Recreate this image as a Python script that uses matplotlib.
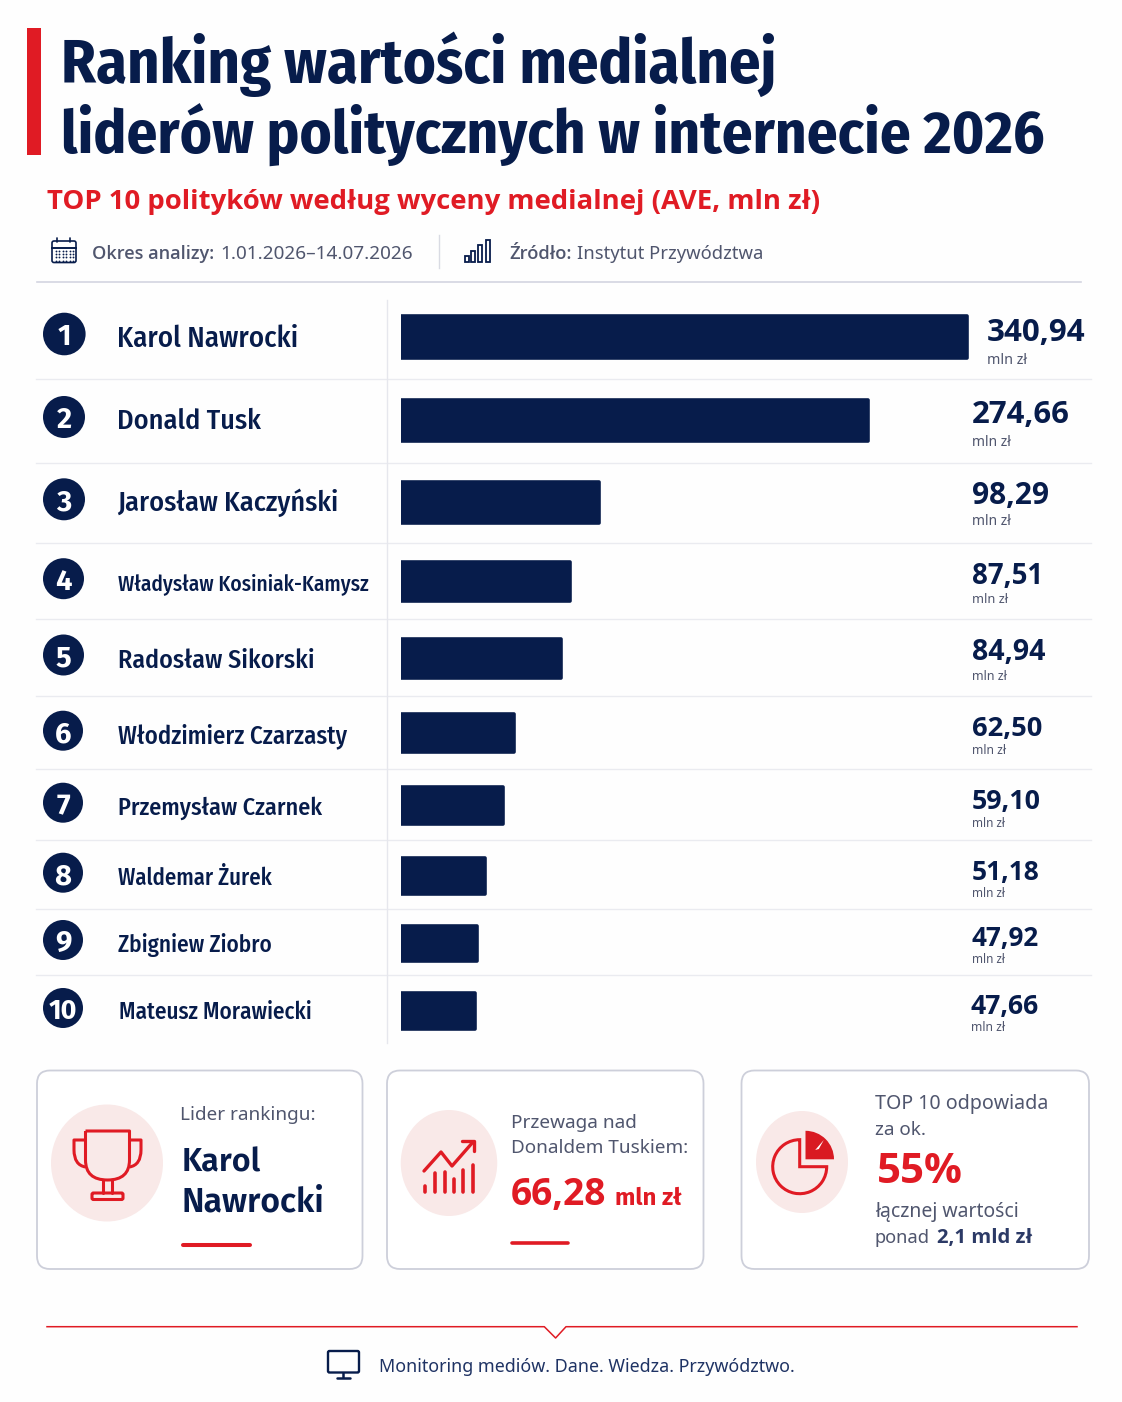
import matplotlib
import matplotlib.pyplot as plt
import numpy as np
from matplotlib.patches import Circle, Ellipse, FancyBboxPatch, PathPatch, Rectangle, Wedge
from matplotlib.path import Path

matplotlib.use("Agg")

NAVY = "#071c4b"
RED = "#e01b24"
GRAY = "#50566e"
PINK = "#f9e9e8"
WIDTH, HEIGHT = 1122, 1402

COND = ["Fira Sans Condensed", "Roboto", "DejaVu Sans"]
SANS = ["Noto Sans", "DejaVu Sans"]
OPEN = ["Open Sans", "Noto Sans", "DejaVu Sans"]
SEMI = ["Fira Sans", "Noto Sans", "DejaVu Sans"]

# data
NAMES = [
    "Karol Nawrocki", "Donald Tusk", "Jarosław Kaczyński", "Władysław Kosiniak-Kamysz",
    "Radosław Sikorski", "Włodzimierz Czarzasty", "Przemysław Czarnek",
    "Waldemar Żurek", "Zbigniew Ziobro", "Mateusz Morawiecki",
]
VALUES = [340.94, 274.66, 98.29, 87.51, 84.94, 62.50, 59.10, 51.18, 47.92, 47.66]
# the bars in the picture are not to scale with the printed values, so read them separately
BAR_LENGTHS = [340.94, 281.6, 119.0, 101.8, 96.1, 68.1, 61.2, 50.9, 45.5, 44.6]

# layout, all in pixels of the 1122x1402 picture
BAR_TOP = [314, 398, 480, 560, 637, 712, 785, 856, 924, 991]
BAR_BOTTOM = [359, 442, 524, 602, 679, 753, 825, 895, 962, 1030]
DIVIDERS = [379.3, 462.7, 543, 619.3, 695.7, 769.3, 840.3, 908.7, 975]
CIRCLE_X = [64.3, 64, 64, 63.5, 63.5, 63, 63, 63, 63, 63]
CIRCLE_Y = [334, 417, 499.3, 578.7, 655, 730.7, 802.7, 872.7, 940, 1008]
CIRCLE_R = [21.3, 21, 21, 20.5, 20.5, 20, 20, 20, 20, 20]
NAME_X = [117, 117, 117, 118, 118, 118, 118, 118, 118, 119]
NAME_RIGHT = [298, 261, 338, 370, 314, 347, 322, 272, 272, 312]
NAME_BASE = [347, 429, 511, 590, 668, 743, 815, 885, 952, 1019]
VALUE_X = [987, 972, 972, 972, 972, 972, 972, 972, 972, 971]
VALUE_RIGHT = [1085, 1070, 1049, 1043, 1045, 1042, 1041, 1040, 1039, 1039]
VALUE_BASE = [341, 423, 504, 584, 660, 736, 809, 880, 946, 1014]
UNIT_RIGHT = [1027, 1011, 1011, 1008, 1007, 1006, 1005, 1005, 1005, 1005]
UNIT_BASE = [364, 445.7, 525, 603, 680, 754, 827, 897, 963, 1031]


fig = plt.figure(figsize=(WIDTH / 100, HEIGHT / 100), dpi=100, facecolor="#fefefe")
ax = fig.add_axes([0, 0, 1, 1])
ax.set_xlim(0, WIDTH)
ax.set_ylim(HEIGHT, 0)
ax.axis("off")
renderer = fig.canvas.get_renderer()


def label(x, base, text, right, family=SANS, weight="normal", color=GRAY, **kw):
    # font size is fitted so the text runs from x to right, as in the picture
    t = ax.text(x, base, text, family=family, weight=weight, color=color,
                fontsize=20, va="baseline", ha="left", **kw)
    width = t.get_window_extent(renderer).width
    t.set_fontsize(20 * (right - x) / width)
    return t


def stroke(points, color=RED, lw=2.2, **kw):
    xs, ys = zip(*points)
    ax.plot(xs, ys, color=color, lw=lw, solid_capstyle="round", solid_joinstyle="round", **kw)


# header
ax.add_patch(Rectangle((27, 28), 14, 127, color=RED, lw=0))
label(61, 83, "Ranking wartości medialnej", 779, COND, "bold", NAVY)
label(61, 154, "liderów politycznych w internecie 2026", 1044, COND, "bold", NAVY)
label(47, 209, "TOP 10 polityków według wyceny medialnej (AVE, mln zł)", 818, OPEN, "bold", RED)

label(92, 259, "Okres analizy:", 214, OPEN, "semibold")
label(220, 259, "1.01.2026–14.07.2026", 413)
label(509, 259, "Źródło:", 571, OPEN, "semibold")
label(577, 259, "Instytut Przywództwa", 763)
ax.plot([439, 439], [235, 268], color="#d9dbe3", lw=1)
ax.plot([37, 1081], [281.5, 281.5], color="#d3d5e0", lw=1.2)

# calendar icon
ax.add_patch(FancyBboxPatch((52, 241), 24, 21.5, boxstyle="round,pad=0,rounding_size=2",
                            fc="none", ec=NAVY, lw=1.2))
ax.plot([52, 76], [247.5, 247.5], color=NAVY, lw=1.4)
for ring_x in (57.5, 70.5):
    stroke([(ring_x, 237.5), (ring_x, 242)], NAVY, 1.2)
dot_x, dot_y = np.meshgrid(np.arange(56, 74, 3.4), np.arange(251, 261, 3.2))
ax.scatter(dot_x.ravel(), dot_y.ravel(), s=1.8, color=NAVY, lw=0)

# small bars icon
for left, top in zip((465, 471.5, 478.5, 486), (256, 251, 245, 240)):
    ax.add_patch(Rectangle((left, top), 3.6, 261.5 - top, fc="none", ec=NAVY, lw=1.3))

# table grid
for y in DIVIDERS:
    ax.plot([36, 1091], [y, y], color="#eaebf0", lw=1)
ax.plot([386.8, 386.8], [300, 1043], color="#e6e7ed", lw=1)

# bars, on their own axes so lengths go through an x scale
bar_left, bar_zero_width, x_max = 401, 566, 400
ax_bars = fig.add_axes([bar_left / WIDTH, 0, bar_zero_width * (x_max / VALUES[0]) / WIDTH, 1])
ax_bars.set_xlim(0, x_max)
ax_bars.set_ylim(HEIGHT, 0)
ax_bars.axis("off")
ax_bars.patch.set_alpha(0)
centers = [(a + b) / 2 for a, b in zip(BAR_TOP, BAR_BOTTOM)]
heights = [b - a - 3 for a, b in zip(BAR_TOP, BAR_BOTTOM)]
ax_bars.barh(centers, BAR_LENGTHS, height=heights, color=NAVY, edgecolor=NAVY,
             linewidth=2.6, joinstyle="round")

# rows
for i, name in enumerate(NAMES):
    ax.add_patch(Circle((CIRCLE_X[i], CIRCLE_Y[i]), CIRCLE_R[i], color=NAVY, lw=0))
    ax.text(CIRCLE_X[i], CIRCLE_Y[i] + 0.5, str(i + 1), color="white", ha="center",
            va="center_baseline", family=SEMI, weight="bold", fontsize=21 if i < 9 else 19.5)
    label(NAME_X[i], NAME_BASE[i], name, NAME_RIGHT[i], COND, "medium", NAVY)
    label(VALUE_X[i], VALUE_BASE[i], f"{VALUES[i]:.2f}".replace(".", ","), VALUE_RIGHT[i],
          OPEN, "bold", NAVY)
    label(VALUE_X[i], UNIT_BASE[i], "mln zł", UNIT_RIGHT[i])

# cards
for left, right in ((37, 362.5), (387, 703.5), (741.5, 1089)):
    ax.add_patch(FancyBboxPatch((left, 1070.5), right - left, 198.5,
                                boxstyle="round,pad=0,rounding_size=13",
                                fc="white", ec="#cdcfda", lw=1.3))

ax.add_patch(Ellipse((107, 1163), 112, 117, color=PINK, lw=0))
ax.add_patch(Ellipse((449, 1163), 96.5, 106, color=PINK, lw=0))
ax.add_patch(Ellipse((802, 1162), 92, 102, color=PINK, lw=0))

# trophy
cup = Path(
    [(85.5, 1131), (129.5, 1131), (129.5, 1160), (129.5, 1180), (107.5, 1180),
     (85.5, 1180), (85.5, 1160), (85.5, 1131)],
    [Path.MOVETO, Path.LINETO, Path.LINETO, Path.CURVE3, Path.CURVE3,
     Path.CURVE3, Path.CURVE3, Path.LINETO],
)
ax.add_patch(PathPatch(cup, fc="none", ec=RED, lw=2.2, joinstyle="round"))
for edge, outer in ((85.5, 74), (129.5, 141)):
    handle = Path([(edge, 1140), (outer, 1140), (outer, 1150), (outer, 1165), (edge, 1167)],
                  [Path.MOVETO, Path.LINETO, Path.LINETO, Path.CURVE3, Path.CURVE3])
    ax.add_patch(PathPatch(handle, fc="none", ec=RED, lw=2.2, joinstyle="round"))
stroke([(103, 1180), (103, 1193)])
stroke([(112, 1180), (112, 1193)])
ax.add_patch(FancyBboxPatch((92, 1193), 31, 6.5, boxstyle="round,pad=0,rounding_size=1.5",
                            fc="none", ec=RED, lw=2.2))

# trend icon
stroke([(424, 1171), (441, 1152), (452, 1166), (473, 1142)], lw=2.4)
stroke([(462, 1141), (474, 1141), (474, 1151)], lw=2.4)
for x, top in zip((425.5, 435, 445, 454.5, 463.5, 473),
                  (1186, 1173, 1172, 1179, 1170, 1165)):
    stroke([(x, top), (x, 1191.5)], lw=2.6)

# pie icon
ax.add_patch(Wedge((799.7, 1166.7), 27, 0, 270, fc="none", ec=RED, lw=2.2))
ax.add_patch(Wedge((805.5, 1159.3), 28.5, 270, 360, color="#d91a22", lw=0))
ax.fill([823.8, 815.2, 818.8], [1140, 1150, 1149], color="white", lw=0)

# card texts
label(180, 1120, "Lider rankingu:", 315)
label(182, 1172, "Karol", 261, SEMI, "semibold", NAVY)
label(182, 1211, "Nawrocki", 325, SEMI, "semibold", NAVY)
stroke([(183.5, 1245), (250.5, 1245)], lw=2.9)

label(511, 1128, "Przewaga nad", 637)
label(511, 1153, "Donaldem Tuskiem:", 688)
label(511, 1205, "66,28", 607, OPEN, "bold", RED)
label(615, 1205, "mln zł", 682, SEMI, "bold", RED)
stroke([(512.5, 1242.7), (568, 1242.7)], lw=2.6)

label(875, 1109, "TOP 10 odpowiada", 1048)
label(875, 1135, "za ok.", 926)
label(877, 1183, "55%", 963, OPEN, "bold", RED)
label(875, 1217, "łącznej wartości", 1018.6)
label(875, 1243, "ponad", 930)
label(937, 1243, "2,1 mld zł", 1032, OPEN, "bold", "#2c3a66")

# footer
ax.plot([47, 544.3, 555.6, 566, 1077], [1326.7, 1326.7, 1338, 1326.7, 1326.7], color=RED, lw=1.1)
ax.add_patch(FancyBboxPatch((328, 1351), 31, 21.5, boxstyle="round,pad=0,rounding_size=1.5",
                            fc="none", ec=NAVY, lw=1.7))
stroke([(343.5, 1372.5), (343.5, 1377)], NAVY, 1.8)
stroke([(337, 1377.5), (350, 1377.5)], NAVY, 1.8)
label(379, 1371.7, "Monitoring mediów. Dane. Wiedza. Przywództwo.", 795, color="#1f3364")

fig.savefig("out.png", dpi=100, facecolor=fig.get_facecolor())
